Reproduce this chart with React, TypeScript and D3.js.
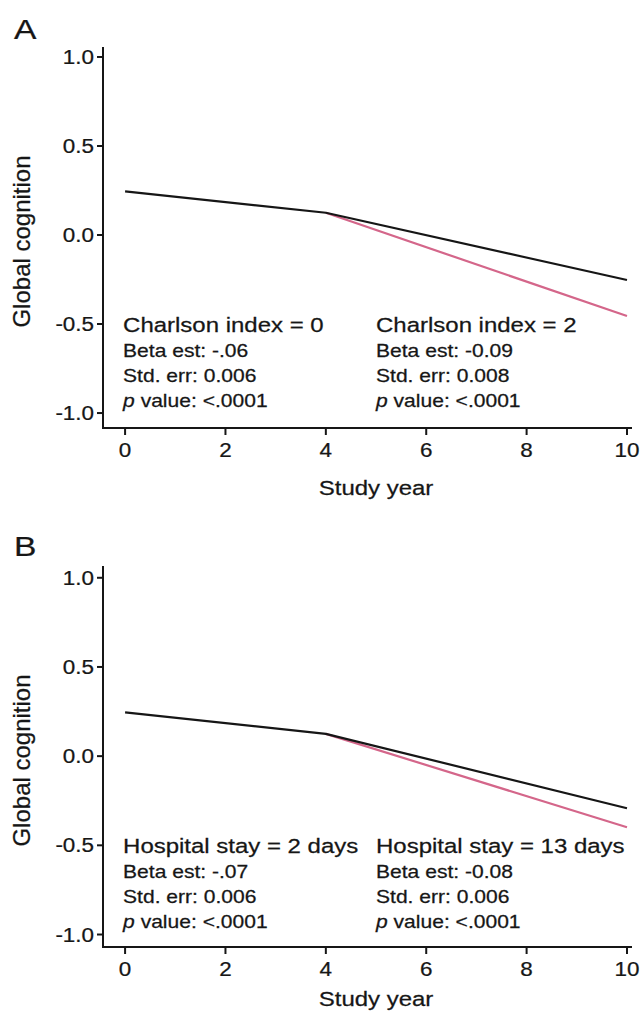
import React from "react";
import * as d3 from "d3";

const W = 642;
const H = 1013;
const SX = 1.2; // horizontal stretch of the original figure's text

const years = [0, 4, 10];
const xTicks = [0, 2, 4, 6, 8, 10];
const yTicks = [1.0, 0.5, 0.0, -0.5, -1.0];

// Panel A: Charlson index
const aRef = [0.245, 0.125, -0.253]; // Charlson index = 0 (black)
const aAlt = [null, 0.125, -0.455]; // Charlson index = 2 (pink)
const aLabels = ["Charlson index = 0", "Charlson index = 2"];
const aBeta = ["-.06", "-0.09"];
const aSe = ["0.006", "0.008"];
const aP = ["<.0001", "<.0001"];

// Panel B: Hospital stay
const bRef = [0.245, 0.125, -0.292]; // 2 days (black)
const bAlt = [null, 0.125, -0.399]; // 13 days (pink)
const bLabels = ["Hospital stay = 2 days", "Hospital stay = 13 days"];
const bBeta = ["-.07", "-0.08"];
const bSe = ["0.006", "0.006"];
const bP = ["<.0001", "<.0001"];

const FONT = "'Liberation Sans', Arial, Helvetica, sans-serif";
const INK = "#161616";
const PINK = "#d4668a";

type PanelProps = {
  letter: string;
  top: number;
  bottom: number;
  yDomain: [number, number];
  letterY: number;
  titleY: number;
  refVals: (number | null)[];
  altVals: (number | null)[];
  labels: string[];
  beta: string[];
  se: string[];
  p: string[];
};

function T({ x, y, size, anchor = "start", children, sx = SX }: any) {
  return (
    <text
      transform={`translate(${x},${y}) scale(${sx},1)`}
      fontSize={size}
      textAnchor={anchor}
      fill={INK}
      stroke={INK}
      strokeWidth={0.25}
      fontFamily={FONT}
    >
      {children}
    </text>
  );
}

function Panel(props: PanelProps) {
  const { top, bottom, yDomain } = props;
  const x = d3.scaleLinear().domain([-0.44, 10.1]).range([103, 632]);
  const y = d3.scaleLinear().domain(yDomain).range([bottom, top]);
  const line = d3
    .line<[number, number | null]>()
    .defined((d) => d[1] !== null)
    .x((d) => x(d[0]))
    .y((d) => y(d[1] as number));
  const refPts = years.map((yr, i) => [yr, props.refVals[i]] as [number, number | null]);
  const altPts = years.map((yr, i) => [yr, props.altVals[i]] as [number, number | null]);
  const x0 = x(-0.44);
  const zero = y(0);
  const cols = [x(-0.04), x(5.0)];
  const baseOff = [97, 122, 147, 172];

  return (
    <g>
      <T x={14} y={props.letterY} size={28}>{props.letter}</T>
      {/* axes */}
      <line x1={x0} x2={x0} y1={top} y2={bottom + 1} stroke={INK} strokeWidth={2} />
      <line x1={x0 - 1} x2={x(10.1)} y1={bottom} y2={bottom} stroke={INK} strokeWidth={2} />
      {yTicks.map((t) => (
        <g key={"y" + t}>
          <line x1={x0 - 6} x2={x0} y1={y(t)} y2={y(t)} stroke={INK} strokeWidth={2} />
          <T x={94} y={y(t) + 7} size={19.5} anchor="end" sx={1.15}>{t.toFixed(1)}</T>
        </g>
      ))}
      {xTicks.map((t) => (
        <g key={"x" + t}>
          <line x1={x(t)} x2={x(t)} y1={bottom} y2={bottom + 7} stroke={INK} strokeWidth={2} />
          <T x={x(t)} y={bottom + 29} size={19.5} anchor="middle" sx={1.15}>{String(t)}</T>
        </g>
      ))}
      <T x={x(5)} y={props.titleY} size={20.5}>{""}</T>
      <T x={x(5)} y={props.titleY} size={20.5} anchor="middle" sx={1.17}>Study year</T>
      <text
        transform={`translate(30,${(top + bottom) / 2 + 4}) rotate(-90)`}
        fontSize={24}
        textAnchor="middle"
        fill={INK}
        stroke={INK}
        strokeWidth={0.25}
        fontFamily={FONT}
      >
        Global cognition
      </text>
      {/* lines */}
      <path d={line(altPts) || ""} fill="none" stroke={PINK} strokeWidth={2.2} />
      <path d={line(refPts) || ""} fill="none" stroke={INK} strokeWidth={2.2} />
      {/* annotations */}
      {cols.map((cx, i) => (
        <g key={"c" + i}>
          <T x={cx} y={zero + baseOff[0]} size={20.5} sx={1.17}>{props.labels[i]}</T>
          <T x={cx} y={zero + baseOff[1]} size={18} sx={1.17}>{"Beta est: " + props.beta[i]}</T>
          <T x={cx} y={zero + baseOff[2]} size={18} sx={1.17}>{"Std. err: " + props.se[i]}</T>
          <text
            transform={`translate(${cx},${zero + baseOff[3]}) scale(1.17,1)`}
            fontSize={18}
            fill={INK}
            stroke={INK}
            strokeWidth={0.25}
            fontFamily={FONT}
          >
            <tspan fontStyle="italic">p</tspan>
            <tspan>{" value: " + props.p[i]}</tspan>
          </text>
        </g>
      ))}
    </g>
  );
}

export default function App() {
  return (
    <svg
      width={W}
      height={H}
      viewBox={`0 0 ${W} ${H}`}
      style={{ position: "absolute", left: 0, top: 0, background: "#fff" }}
    >
      <rect width={W} height={H} fill="#fff" />
      <Panel
        letter="A"
        top={47}
        bottom={428}
        yDomain={[-1.084, 1.056]}
        letterY={39}
        titleY={495}
        refVals={aRef}
        altVals={aAlt}
        labels={aLabels}
        beta={aBeta}
        se={aSe}
        p={aP}
      />
      <Panel
        letter="B"
        top={566}
        bottom={947}
        yDomain={[-1.07, 1.066]}
        letterY={556}
        titleY={1006}
        refVals={bRef}
        altVals={bAlt}
        labels={bLabels}
        beta={bBeta}
        se={bSe}
        p={bP}
      />
    </svg>
  );
}
